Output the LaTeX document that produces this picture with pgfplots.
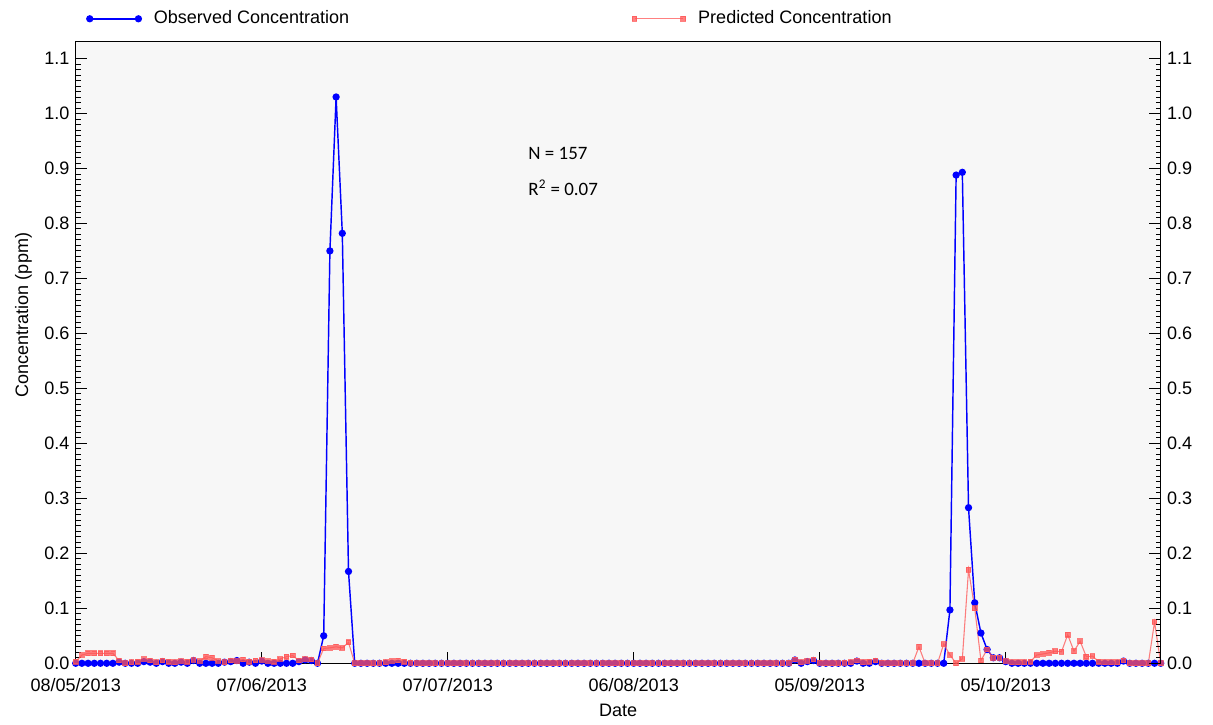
\documentclass[border=0pt]{standalone}
\usepackage{fontspec}
\setmainfont{Liberation Sans}
\newfontfamily\calibri{Carlito}
\usepackage{pgfplots}
\usepackage{pgfplotstable}
\pgfplotsset{compat=1.18}

% day (0 = 08/05/2013), observed, predicted (ppm)
\pgfplotstableread{
day obs pred
0 0 0.003
1 0 0.015
2 0 0.018
3 0 0.018
4 0 0.018
5 0 0.018
6 0 0.018
7 0.002 0.005
8 0 0
9 0 0.002
10 0 0.003
11 0.003 0.008
12 0.002 0.005
13 0 0.002
14 0.003 0.005
15 0 0.003
16 0 0.002
17 0.002 0.004
18 0 0.003
19 0.005 0.006
20 0 0.004
21 0 0.012
22 0 0.010
23 0 0.004
24 0.002 0.002
25 0.003 0.005
26 0.005 0.004
27 0 0.007
28 0.002 0.003
29 0 0.005
30 0.004 0.006
31 0 0.004
32 0 0.003
33 0 0.008
34 0 0.012
35 0 0.014
36 0.003 0.005
37 0.006 0.008
38 0.005 0.007
39 0 0
40 0.050 0.027
41 0.750 0.028
42 1.030 0.030
43 0.782 0.028
44 0.167 0.038
45 0 0
46 0 0
47 0 0
48 0 0
49 0 0
50 0 0.002
51 0 0.004
52 0 0.005
53 0 0.003
54 0 0.001
55 0 0
56 0 0
57 0 0
58 0 0
59 0 0
60 0 0
61 0 0
62 0 0
63 0 0
64 0 0
65 0 0
66 0 0
67 0 0
68 0 0
69 0 0
70 0 0
71 0 0
72 0 0
73 0 0
74 0 0
75 0 0
76 0 0
77 0 0
78 0 0
79 0 0
80 0 0
81 0 0
82 0 0
83 0 0
84 0 0
85 0 0
86 0 0
87 0 0
88 0 0
89 0 0
90 0 0
91 0 0
92 0 0
93 0 0
94 0 0
95 0 0
96 0 0
97 0 0
98 0 0
99 0 0
100 0 0
101 0 0
102 0 0
103 0 0
104 0 0
105 0 0
106 0 0
107 0 0
108 0 0
109 0 0
110 0 0
111 0 0
112 0 0
113 0 0
114 0 0
115 0 0.001
116 0.006 0.007
117 0 0.002
118 0.003 0.004
119 0.005 0.007
120 0 0.001
121 0 0
122 0 0
123 0 0
124 0 0.001
125 0 0.002
126 0.004 0.005
127 0 0.002
128 0 0.003
129 0.003 0.005
130 0 0.001
131 0 0
132 0 0
133 0 0
134 0 0
135 0 0
136 0 0.030
137 0 0
138 0 0
139 0 0
140 0 0.035
141 0.097 0.015
142 0.888 0
143 0.893 0.008
144 0.283 0.170
145 0.110 0.100
146 0.055 0.005
147 0.025 0.025
148 0.010 0.010
149 0.010 0.010
150 0.003 0.004
151 0 0.002
152 0 0.002
153 0 0.002
154 0 0.003
155 0 0.015
156 0 0.017
157 0 0.019
158 0 0.022
159 0 0.021
160 0 0.052
161 0 0.022
162 0 0.040
163 0 0.012
164 0 0.013
165 0 0.003
166 0 0.002
167 0 0.002
168 0 0.002
169 0.004 0.005
170 0 0
171 0 0
172 0 0
173 0 0
174 0 0.075
175 0 0
}\conc

\definecolor{obsblue}{RGB}{0,0,255}
\definecolor{predred}{RGB}{255,85,85}

\begin{document}
\begin{tikzpicture}
\useasboundingbox (-42pt,-34pt) rectangle (631pt,368pt);
\pgfplotsset{
  conc axis/.style={
    scale only axis, width=602pt, height=345pt,
    xmin=0, xmax=175, ymin=0, ymax=1.131,
    ytick={0,0.1,0.2,0.3,0.4,0.5,0.6,0.7,0.8,0.9,1.0,1.1},
    minor y tick num=9,
    tick align=inside,
    major tick length=6.5pt, minor tick length=2.8pt,
    every tick/.style={black, line width=0.5pt},
    yticklabel style={/pgf/number format/.cd, fixed, fixed zerofill, precision=1, assume math mode=true},
    axis line style={line width=0.6pt},
  }
}
\begin{axis}[conc axis,
  axis background/.style={fill=gray!6},
  xtick={0,30,60,90,120,150},
  xticklabels={08/05/2013,07/06/2013,07/07/2013,06/08/2013,05/09/2013,05/10/2013},
  xticklabel style={yshift=-5pt},
  xtick pos=bottom, ytick pos=left,
  xlabel={Date}, ylabel={Concentration  (ppm)},
  ylabel style={at={(ticklabel cs:0.56)}},
  legend columns=2,
  legend style={at={(0,1)}, anchor=south west, xshift=3pt, yshift=4pt, draw=none, fill=none,
    /tikz/every odd column/.append style={column sep=5pt},
    /tikz/every even column/.append style={column sep=155pt}},
  legend image code/.code={\draw[mark repeat=1,#1] plot coordinates {(0pt,0pt) (27pt,0pt)};},
]
\addplot[obsblue, line width=0.8pt, mark=*, mark size=1.6pt] table[x=day, y=obs] {\conc};
\addlegendentry{Observed Concentration}
\addplot[predred, opacity=0.75, line width=0.6pt, mark=square*, mark size=1.3pt] table[x=day, y=pred] {\conc};
\addlegendentry{Predicted Concentration}
\node[anchor=west, font=\calibri\fontsize{10.5}{12}\selectfont] at (axis cs:72,0.927) {N = 157};
\node[anchor=west, font=\calibri\fontsize{10.5}{12}\selectfont] at (axis cs:72,0.865) {R\textsuperscript{2} = 0.07};
\end{axis}
\begin{axis}[conc axis,
  hide x axis, axis y line*=right,
]
\end{axis}
\end{tikzpicture}
\end{document}
